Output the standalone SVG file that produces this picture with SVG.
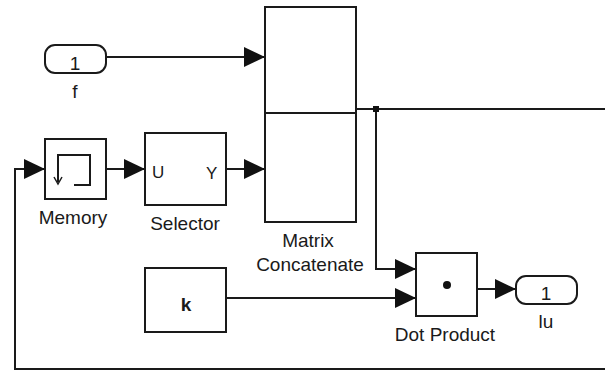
<svg xmlns="http://www.w3.org/2000/svg" width="605" height="371" viewBox="0 0 605 371">
<defs>
<style>
.blk{fill:#fff;stroke:#1a1a1a;stroke-width:2}
.ln{fill:none;stroke:#1a1a1a;stroke-width:2}
.lbl{font-family:"Liberation Sans",Arial,sans-serif;font-size:19px;fill:#1a1a1a;text-anchor:middle}
.in{font-family:"Liberation Sans",Arial,sans-serif;font-size:17px;fill:#1a1a1a}
</style>
<marker id="arr" markerWidth="22" markerHeight="20" refX="21" refY="10" orient="auto" markerUnits="userSpaceOnUse">
<path d="M0,0 L21,10 L0,20 Z" fill="#111"/>
</marker>
</defs>
<rect width="605" height="371" fill="#fff"/>

<g id="connectors">
<path class="ln" d="M106,57 H265" marker-end="url(#arr)"/>
<path class="ln" d="M106,169 H145" marker-end="url(#arr)"/>
<path class="ln" d="M226,169 H265" marker-end="url(#arr)"/>
<path class="ln" d="M356,109 H605"/>
<path class="ln" d="M376,109 V269 H416" marker-end="url(#arr)"/>
<path class="ln" d="M226,298 H416" marker-end="url(#arr)"/>
<path class="ln" d="M477,289 H516" marker-end="url(#arr)"/>
<path class="ln" d="M605,369 H15 V169 H45" marker-end="url(#arr)"/>
<rect x="373" y="106" width="6" height="6" fill="#111"/>
</g>

<g id="inport-f">
<rect class="blk" x="45" y="45" width="61" height="28" rx="10" ry="10"/>
<text class="lbl" x="75" y="70" font-size="17">1</text>
<text class="lbl" x="75" y="98">f</text>
</g>

<g id="memory">
<rect class="blk" x="45" y="139" width="61" height="60"/>
<path class="ln" d="M74,185 H90 V155 H58 V182"/>
<path d="M54,177 L58,184 L62,177" fill="none" stroke="#1a1a1a" stroke-width="1.5"/>
<text class="lbl" x="73" y="224">Memory</text>
</g>

<g id="selector">
<rect class="blk" x="145" y="133" width="81" height="72"/>
<text class="in" x="152" y="178">U</text>
<text class="in" x="206" y="179">Y</text>
<text class="lbl" x="185" y="230">Selector</text>
</g>

<g id="matrix-concatenate">
<rect class="blk" x="265" y="7" width="91" height="215"/>
<line class="ln" x1="265" y1="113" x2="356" y2="113"/>
<text class="lbl" x="308" y="247">Matrix</text>
<text class="lbl" x="310" y="271">Concatenate</text>
</g>

<g id="k">
<rect class="blk" x="145" y="268" width="81" height="64"/>
<text class="lbl" x="186" y="311" font-weight="bold" font-size="17">k</text>
</g>

<g id="dot-product">
<rect class="blk" x="416" y="253" width="61" height="63"/>
<circle cx="447" cy="285" r="4" fill="#111"/>
<text class="lbl" x="445" y="341">Dot Product</text>
</g>

<g id="outport-lu">
<rect class="blk" x="516" y="276" width="61" height="28" rx="10" ry="10"/>
<text class="lbl" x="546" y="300" font-size="17">1</text>
<text class="lbl" x="546" y="328">lu</text>
</g>
</svg>
